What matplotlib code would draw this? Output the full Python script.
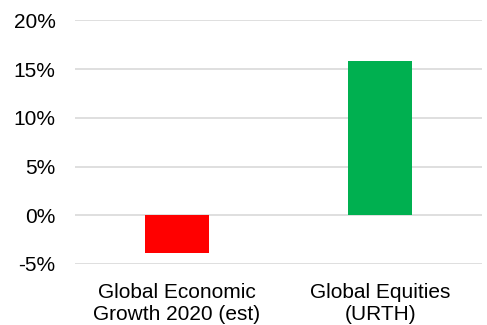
import matplotlib
matplotlib.use("Agg")
import matplotlib.pyplot as plt

categories = ["Global Economic\nGrowth 2020 (est)", "Global Equities\n(URTH)"]
values = [-3.9, 15.8]
colors = ["#FF0000", "#00B050"]
yticks = [-5, 0, 5, 10, 15, 20]

plt.rcParams['font.family'] = ['Liberation Sans', 'DejaVu Sans']
fig = plt.figure(figsize=(4.87, 3.25), dpi=100)
ax = fig.add_axes([0.154, 0.188, 0.836, 0.749])
x = list(range(len(categories)))
ax.bar(x, values, width=0.315, color=colors, zorder=3)
ax.set_xlim(-0.5, 1.5)
ax.set_ylim(-5, 20)
ax.set_yticks(yticks)
ax.set_yticklabels([f"{v}%" for v in yticks], fontsize=15, color="#000000")
ax.set_xticks(x)
ax.set_xticklabels(categories, fontsize=15, linespacing=1.2)
ax.tick_params(axis='y', length=0, pad=14)
ax.tick_params(axis='x', length=0, pad=14)
ax.grid(axis='y', color='#d9d9d9', linewidth=1.2, zorder=0)
for s in ax.spines.values():
    s.set_visible(False)
fig.savefig("out.png", dpi=100)
